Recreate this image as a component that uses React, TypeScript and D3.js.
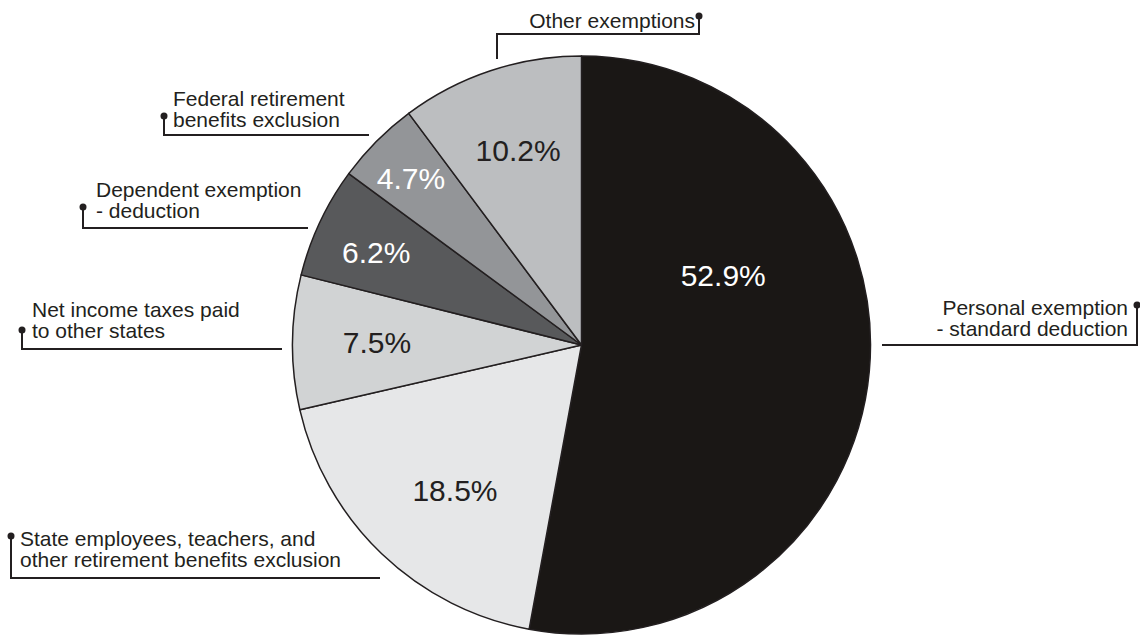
import React from "react";
import * as d3 from "d3";

const categories = [
  "Personal exemption - standard deduction",
  "State employees, teachers, and other retirement benefits exclusion",
  "Net income taxes paid to other states",
  "Dependent exemption - deduction",
  "Federal retirement benefits exclusion",
  "Other exemptions",
];
const values = [52.9, 18.5, 7.5, 6.2, 4.7, 10.2];
const valueLabels = ["52.9%", "18.5%", "7.5%", "6.2%", "4.7%", "10.2%"];
const fills = ["#1a1715", "#e6e7e8", "#d1d3d4", "#58595b", "#939598", "#bcbec0"];
const labelColors = ["#ffffff", "#231f20", "#231f20", "#ffffff", "#ffffff", "#231f20"];
// label placement: angle (deg, clockwise from 12 o'clock) and radius fraction
const labelAngles = [63.7, 221.1, 270.8, 294.4, 314.4, 342];
const labelRadii = [0.547, 0.666, 0.708, 0.78, 0.826, 0.71];

// Callout annotations: text lines, anchor, leader path
type Callout = {
  lines: string[];
  x: number;
  y: number;
  anchor: "start" | "end";
  dot: [number, number];
  path: [number, number][];
};
const callouts: Callout[] = [
  {
    lines: ["Personal exemption", "- standard deduction"],
    x: 1128, y: 315, anchor: "end",
    dot: [1137, 305],
    path: [[1137, 305], [1137, 345], [882, 345]],
  },
  {
    lines: ["State employees, teachers, and", "other retirement benefits exclusion"],
    x: 20, y: 546, anchor: "start",
    dot: [11, 536],
    path: [[11, 536], [11, 578], [380, 578]],
  },
  {
    lines: ["Net income taxes paid", "to other states"],
    x: 32, y: 317, anchor: "start",
    dot: [22, 330],
    path: [[22, 330], [22, 349], [282, 349]],
  },
  {
    lines: ["Dependent exemption", "- deduction"],
    x: 96, y: 197, anchor: "start",
    dot: [83, 207],
    path: [[83, 207], [83, 228], [308, 228]],
  },
  {
    lines: ["Federal retirement", "benefits exclusion"],
    x: 173, y: 106, anchor: "start",
    dot: [164, 116],
    path: [[164, 116], [164, 135], [369, 135]],
  },
  {
    lines: ["Other exemptions"],
    x: 695, y: 28, anchor: "end",
    dot: [699, 16],
    path: [[699, 16], [699, 34], [497, 34], [497, 59]],
  },
];

const W = 1140;
const H = 637;
const CX = 581.5;
const CY = 345;
const R = 289;

export default function App() {
  const pie = d3.pie<number>().sort(null).value((d) => d);
  const arcs = pie(values);
  const arcGen = d3.arc<d3.PieArcDatum<number>>().innerRadius(0).outerRadius(R);
  const line = d3.line();
  const font = "'Liberation Sans', Arial, Helvetica, sans-serif";

  return (
    <svg
      width={W}
      height={H}
      style={{ position: "absolute", left: 0, top: 0, background: "#fff" }}
    >
      <g transform={`translate(${CX},${CY})`}>
        {arcs.map((a, i) => (
          <path
            key={i}
            d={arcGen(a) || ""}
            fill={fills[i]}
            stroke="#231f20"
            strokeWidth={1.5}
            strokeLinejoin="round"
          />
        ))}
        {arcs.map((a, i) => {
          const ang = (labelAngles[i] * Math.PI) / 180;
          const r = labelRadii[i] * R;
          const x = Math.sin(ang) * r;
          const y = -Math.cos(ang) * r;
          return (
            <text
              key={i}
              x={x}
              y={y}
              dy="0.36em"
              textAnchor="middle"
              fontFamily={font}
              fontSize={30}
              fill={labelColors[i]}
            >
              {valueLabels[i]}
            </text>
          );
        })}
      </g>
      {callouts.map((c, i) => (
        <g key={i}>
          <path
            d={line(c.path) || ""}
            fill="none"
            stroke="#231f20"
            strokeWidth={2}
          />
          <circle cx={c.dot[0]} cy={c.dot[1]} r={3.5} fill="#231f20" />
          {c.lines.map((t, j) => (
            <text
              key={j}
              x={c.x}
              y={c.y + j * 21}
              textAnchor={c.anchor}
              fontFamily={font}
              fontSize={21}
              fill="#231f20"
            >
              {t}
            </text>
          ))}
        </g>
      ))}
    </svg>
  );
}
